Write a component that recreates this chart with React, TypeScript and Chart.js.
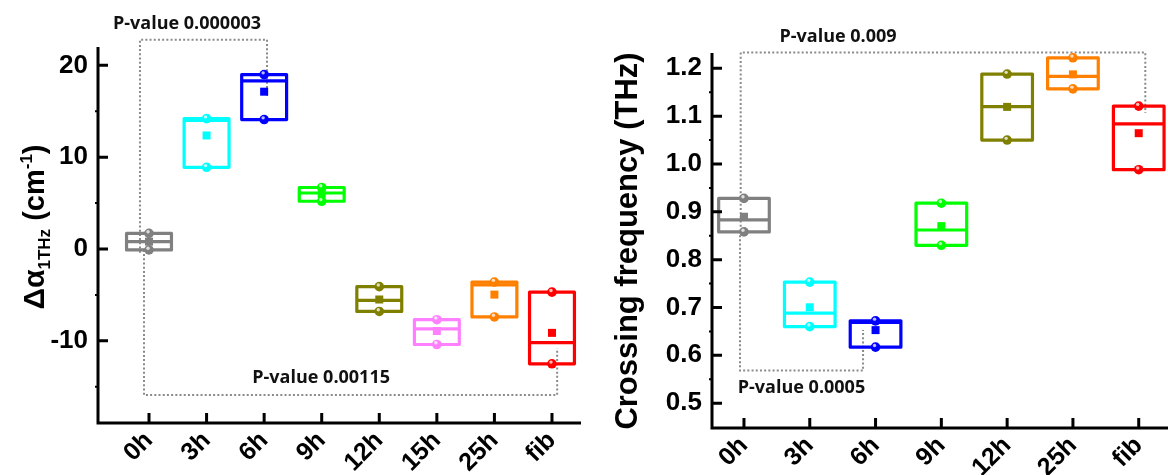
import React, { useEffect, useRef } from "react";
import { Chart, registerables } from "chart.js";

Chart.register(...registerables);

// Change of absorption at 1 THz, three replicates per time point (cm^-1)
const alphaGroups = ["0h", "3h", "6h", "9h", "12h", "15h", "25h", "fib"];
const alphaColors = ["#808080", "#00ffff", "#0000ff", "#00ff00", "#808000", "#ff80ff", "#ff8000", "#ff0000"];
const alphaReplicates = [
  [1.7, 0.8, -0.1],
  [14.2, 14.0, 8.9],
  [19.0, 18.3, 14.1],
  [6.7, 6.1, 5.2],
  [-4.1, -5.6, -6.8],
  [-7.7, -8.7, -10.4],
  [-3.6, -3.9, -7.4],
  [-4.7, -10.2, -12.5],
];
const alphaTicks = [-10, 0, 10, 20];
const alphaMinorTicks = [-15, -5, 5, 15];

// Crossing frequency, three replicates per time point (THz)
const freqGroups = ["0h", "3h", "6h", "9h", "12h", "25h", "fib"];
const freqColors = ["#808080", "#00ffff", "#0000ff", "#00ff00", "#808000", "#ff8000", "#ff0000"];
const freqReplicates = [
  [0.928, 0.883, 0.858],
  [0.753, 0.688, 0.66],
  [0.672, 0.669, 0.617],
  [0.918, 0.862, 0.83],
  [1.188, 1.12, 1.05],
  [1.222, 1.183, 1.157],
  [1.121, 1.084, 0.988],
];
const freqTicks = [0.5, 0.6, 0.7, 0.8, 0.9, 1.0, 1.1, 1.2];
const freqMinorTicks = [0.55, 0.65, 0.75, 0.85, 0.95, 1.05, 1.15];

// Significance brackets: legs at x[0] / x[1], bar at y, legs end at ends[0] / ends[1]
type Bracket = {
  label: string;
  x: [number, number];
  y: number;
  ends: [number, number];
  labelAt: [number, number];
};

const alphaBrackets: Bracket[] = [
  { label: "P-value 0.000003", x: [-0.157, 2.05], y: 22.8, ends: [-0.4, 16.7], labelAt: [0.66, 24.0] },
  { label: "P-value 0.00115", x: [-0.087, 7.09], y: -15.9, ends: [-0.1, -10.8], labelAt: [2.99, -14.57] },
];
const freqBrackets: Bracket[] = [
  { label: "P-value 0.009", x: [-0.05, 6.1], y: 1.233, ends: [0.86, 1.107], labelAt: [1.43, 1.2556] },
  { label: "P-value 0.0005", x: [-0.06, 1.81], y: 0.568, ends: [0.86, 0.653], labelAt: [0.874, 0.5216] },
];

type Seg = { text: string; size: number; dy: number };

const alphaTitle: Seg[] = [
  { text: "\u0394\u03b1", size: 30, dy: 0 },
  { text: "1THz", size: 17, dy: 6 },
  { text: " (cm", size: 29, dy: 0 },
  { text: "-1", size: 17, dy: -12 },
  { text: ")", size: 29, dy: 0 },
];
const freqTitle: Seg[] = [{ text: "Crossing frequency (THz)", size: 31, dy: 0 }];

const AXIS_FONT = "'Liberation Sans', Arial, sans-serif";
const NOTE_FONT = "'Open Sans', sans-serif";

type PanelSpec = {
  groups: string[];
  colors: string[];
  replicates: number[][];
  ticks: number[];
  minorTicks: number[];
  yRange: [number, number];
  xRange: [number, number];
  brackets: Bracket[];
  title: Seg[];
  titleAt: [number, number];
  axisWidth: number;
  axisHeight: number;
  padding: { top: number; right: number; left: number; bottom: number };
  boxWidth: number;
};

function drawRich(ctx: CanvasRenderingContext2D, segs: Seg[], x: number, y: number) {
  ctx.save();
  ctx.translate(x, y);
  ctx.rotate(-Math.PI / 2);
  ctx.fillStyle = "#000";
  ctx.textBaseline = "alphabetic";
  ctx.textAlign = "left";
  let total = 0;
  for (const s of segs) {
    ctx.font = `bold ${s.size}px ${AXIS_FONT}`;
    total += ctx.measureText(s.text).width;
  }
  let cx = -total / 2;
  for (const s of segs) {
    ctx.font = `bold ${s.size}px ${AXIS_FONT}`;
    ctx.fillText(s.text, cx, s.dy);
    cx += ctx.measureText(s.text).width;
  }
  ctx.restore();
}

function makeOverlay(spec: PanelSpec) {
  return {
    id: "panelOverlay",
    beforeDatasetsDraw(chart: any) {
      const ctx: CanvasRenderingContext2D = chart.ctx;
      const xs = chart.scales.x;
      const ys = chart.scales.y;
      ctx.save();
      for (const b of spec.brackets) {
        const x0 = xs.getPixelForValue(b.x[0]);
        const x1 = xs.getPixelForValue(b.x[1]);
        const yb = ys.getPixelForValue(b.y);
        ctx.strokeStyle = "#8a8a8a";
        ctx.lineWidth = 2;
        ctx.setLineDash([2, 2.2]);
        ctx.beginPath();
        ctx.moveTo(x0, ys.getPixelForValue(b.ends[0]));
        ctx.lineTo(x0, yb);
        ctx.lineTo(x1, yb);
        ctx.lineTo(x1, ys.getPixelForValue(b.ends[1]));
        ctx.stroke();
        ctx.setLineDash([]);
        ctx.fillStyle = "#111";
        ctx.font = `bold 18px ${NOTE_FONT}`;
        ctx.textAlign = "center";
        ctx.textBaseline = "alphabetic";
        ctx.fillText(b.label, xs.getPixelForValue(b.labelAt[0]), ys.getPixelForValue(b.labelAt[1]));
      }
      ctx.restore();
    },
    afterDatasetsDraw(chart: any) {
      const ctx: CanvasRenderingContext2D = chart.ctx;
      const xs = chart.scales.x;
      const ys = chart.scales.y;
      ctx.save();
      chart.data.datasets.forEach((ds: any) => {
        const pts = ds.data as { x: number; y: number }[];
        const vals = pts.map((p) => p.y).sort((a, b) => a - b);
        const gx = pts[0].x;
        const lo = vals[0];
        const hi = vals[vals.length - 1];
        const med = vals[Math.floor(vals.length / 2)];
        const mean = vals.reduce((s, v) => s + v, 0) / vals.length;
        const cx = xs.getPixelForValue(gx);
        const xl = xs.getPixelForValue(gx - spec.boxWidth / 2);
        const xr = xs.getPixelForValue(gx + spec.boxWidth / 2);
        const yHi = ys.getPixelForValue(hi);
        const yLo = ys.getPixelForValue(lo);
        const yMed = ys.getPixelForValue(med);
        const yMean = ys.getPixelForValue(mean);
        const color = ds.borderColor;
        ctx.strokeStyle = color;
        ctx.lineWidth = 3.2;
        ctx.lineJoin = "round";
        ctx.strokeRect(xl, yHi, xr - xl, yLo - yHi);
        ctx.beginPath();
        ctx.moveTo(xl, yMed);
        ctx.lineTo(xr, yMed);
        ctx.stroke();
        for (const yy of [yHi, yLo]) {
          ctx.fillStyle = color;
          ctx.beginPath();
          ctx.arc(cx, yy, 4.8, 0, Math.PI * 2);
          ctx.fill();
          ctx.fillStyle = "rgba(255,255,255,0.75)";
          ctx.beginPath();
          ctx.arc(cx - 1, yy - 1.7, 1.7, 0, Math.PI * 2);
          ctx.fill();
        }
        ctx.fillStyle = color;
        ctx.fillRect(cx - 4, yMean - 4, 8, 8);
      });
      ctx.restore();
    },
    afterDraw(chart: any) {
      const ctx: CanvasRenderingContext2D = chart.ctx;
      const xs = chart.scales.x;
      const ys = chart.scales.y;
      const { left, right, top, bottom } = chart.chartArea;
      ctx.save();
      ctx.strokeStyle = "#000";
      ctx.lineWidth = 3;
      ctx.beginPath();
      ctx.moveTo(left, top);
      ctx.lineTo(left, bottom);
      ctx.lineTo(right, bottom);
      ctx.stroke();
      ctx.beginPath();
      for (const v of spec.ticks) {
        const y = ys.getPixelForValue(v);
        ctx.moveTo(left, y);
        ctx.lineTo(left + 10, y);
      }
      spec.groups.forEach((_, i) => {
        const x = xs.getPixelForValue(i);
        ctx.moveTo(x, bottom);
        ctx.lineTo(x, bottom - 10);
      });
      ctx.stroke();
      ctx.lineWidth = 2;
      ctx.beginPath();
      for (const v of spec.minorTicks) {
        const y = ys.getPixelForValue(v);
        ctx.moveTo(left - 3, y);
        ctx.lineTo(left + 1, y);
      }
      ctx.stroke();
      ctx.restore();
      drawRich(ctx, spec.title, spec.titleAt[0], spec.titleAt[1]);
    },
  };
}

function makeConfig(spec: PanelSpec): any {
  return {
    type: "scatter",
    data: {
      datasets: spec.groups.map((g, i) => ({
        label: g,
        data: spec.replicates[i].map((v) => ({ x: i, y: v })),
        borderColor: spec.colors[i],
        backgroundColor: spec.colors[i],
        pointRadius: 0,
        pointHoverRadius: 0,
      })),
    },
    options: {
      responsive: false,
      animation: false,
      events: [],
      layout: { padding: spec.padding },
      plugins: { legend: { display: false }, tooltip: { enabled: false } },
      scales: {
        x: {
          type: "linear",
          min: spec.xRange[0],
          max: spec.xRange[1],
          grid: { display: false, drawTicks: false },
          border: { display: false },
          afterBuildTicks: (s: any) => {
            s.ticks = spec.groups.map((_, i) => ({ value: i }));
          },
          afterFit: (s: any) => {
            s.height = spec.axisHeight;
          },
          ticks: {
            autoSkip: false,
            minRotation: 45,
            maxRotation: 45,
            padding: 3,
            color: "#000",
            font: { family: AXIS_FONT, size: 25, weight: "bold" },
            callback: (v: number) => spec.groups[Math.round(v)],
          },
        },
        y: {
          type: "linear",
          min: spec.yRange[0],
          max: spec.yRange[1],
          grid: { display: false, drawTicks: false },
          border: { display: false },
          afterBuildTicks: (s: any) => {
            s.ticks = spec.ticks.map((v) => ({ value: v }));
          },
          afterFit: (s: any) => {
            s.width = spec.axisWidth;
          },
          ticks: {
            autoSkip: false,
            padding: 10,
            color: "#000",
            font: { family: AXIS_FONT, size: 26, weight: "bold" },
            callback: (v: number) => (spec.ticks.some((t) => t < 2 && t > 0) ? v.toFixed(1) : String(v)),
          },
        },
      },
    },
    plugins: [makeOverlay(spec)],
  };
}

const alphaPanel: PanelSpec = {
  groups: alphaGroups,
  colors: alphaColors,
  replicates: alphaReplicates,
  ticks: alphaTicks,
  minorTicks: alphaMinorTicks,
  yRange: [-18.95, 22.0],
  xRange: [-0.886, 7.504],
  brackets: alphaBrackets,
  title: alphaTitle,
  titleAt: [44, 227],
  axisWidth: 98,
  axisHeight: 52,
  padding: { top: 47, right: 3, left: 0, bottom: 0 },
  boxWidth: 0.78,
};

const freqPanel: PanelSpec = {
  groups: freqGroups,
  colors: freqColors,
  replicates: freqReplicates,
  ticks: freqTicks,
  minorTicks: freqMinorTicks,
  yRange: [0.448, 1.232],
  xRange: [-0.486, 6.445],
  brackets: freqBrackets,
  title: freqTitle,
  titleAt: [53, 241],
  axisWidth: 128,
  axisHeight: 47,
  padding: { top: 53, right: 0, left: 0, bottom: 0 },
  boxWidth: 0.77,
};

function Panel({ spec, left }: { spec: PanelSpec; left: number }) {
  const ref = useRef<HTMLCanvasElement>(null);
  useEffect(() => {
    if (!ref.current) return;
    const chart = new Chart(ref.current, makeConfig(spec));
    return () => chart.destroy();
  }, [spec]);
  return (
    <canvas
      ref={ref}
      width={584}
      height={475}
      style={{ position: "absolute", left, top: 0, width: 584, height: 475 }}
    />
  );
}

export default function App() {
  return (
    <div style={{ position: "fixed", left: 0, top: 0, width: 1168, height: 475, background: "#fff" }}>
      <Panel spec={alphaPanel} left={0} />
      <Panel spec={freqPanel} left={584} />
    </div>
  );
}
